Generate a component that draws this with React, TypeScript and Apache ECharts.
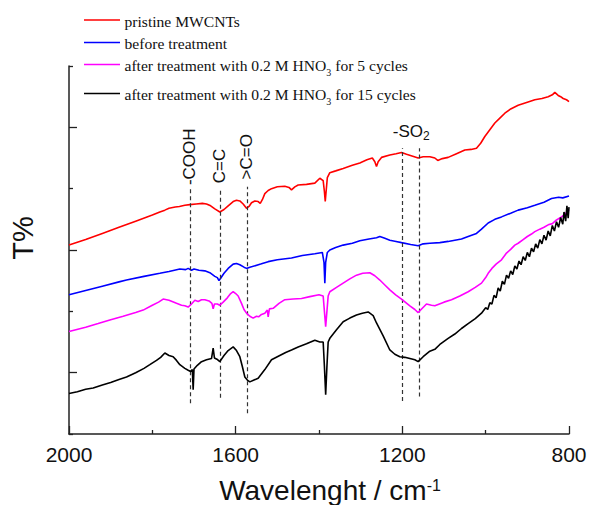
import React, { useEffect, useRef } from "react";
import * as echarts from "echarts";

type Pt = [number, number];

const seriesNames = [
  "pristine MWCNTs",
  "before treatment",
  "after treatment with 0.2 M HNO3 for 5 cycles",
  "after treatment with 0.2 M HNO3 for 15 cycles",
];
const legendLabels = [
  "pristine MWCNTs",
  "before treatment",
  "after treatment with 0.2 M HNO{sub|3} for 5 cycles",
  "after treatment with 0.2 M HNO{sub|3} for 15 cycles",
];
const seriesColors = ["#ff0000", "#0000ff", "#ff00ff", "#000000"];

const redData: Pt[] = [
  [2000,3.08],[1960,3.17],[1920,3.27],[1880,3.37],[1840,3.47],[1800,3.57],[1782,3.62],[1770,3.65],[1760,3.68],[1745,3.70],[1735,3.71],[1722,3.73],[1710,3.74],[1695,3.75],[1680,3.76],[1670,3.75],[1660,3.72],[1650,3.67],[1638,3.62],[1628,3.66],[1618,3.72],[1606,3.79],[1598,3.81],[1590,3.80],[1582,3.75],[1574,3.68],[1568,3.71],[1562,3.77],[1554,3.80],[1546,3.79],[1541,3.76],[1536,3.82],[1530,3.92],[1522,3.97],[1514,4.00],[1500,4.03],[1482,4.04],[1472,4.02],[1466,3.98],[1458,4.03],[1450,4.06],[1430,4.07],[1410,4.09],[1398,4.17],[1390,4.13],[1387,3.95],[1385,3.79],[1383,3.95],[1380,4.18],[1374,4.26],[1360,4.29],[1342,4.33],[1320,4.38],[1302,4.42],[1285,4.47],[1272,4.50],[1266,4.44],[1262,4.36],[1258,4.44],[1250,4.51],[1230,4.55],[1215,4.57],[1202,4.59],[1190,4.56],[1175,4.53],[1162,4.50],[1150,4.52],[1134,4.52],[1122,4.50],[1115,4.46],[1104,4.49],[1090,4.51],[1070,4.57],[1050,4.63],[1035,4.64],[1022,4.66],[1012,4.74],[1002,4.85],[990,4.96],[978,5.07],[966,5.15],[954,5.23],[940,5.30],[922,5.36],[900,5.41],[882,5.45],[865,5.47],[850,5.50],[840,5.53],[834,5.57],[826,5.52],[820,5.50],[814,5.47],[806,5.45],[800,5.42],
];

const blueData: Pt[] = [
  [2000,2.27],[1960,2.34],[1920,2.41],[1880,2.48],[1862,2.51],[1820,2.57],[1782,2.62],[1760,2.65],[1734,2.69],[1720,2.68],[1714,2.70],[1706,2.67],[1700,2.69],[1688,2.67],[1674,2.66],[1662,2.63],[1650,2.57],[1644,2.55],[1640,2.50],[1636,2.54],[1628,2.62],[1618,2.70],[1606,2.77],[1598,2.78],[1590,2.76],[1580,2.72],[1574,2.70],[1566,2.72],[1560,2.73],[1540,2.77],[1522,2.81],[1500,2.84],[1466,2.87],[1440,2.91],[1410,2.94],[1392,2.96],[1388,2.80],[1386,2.46],[1384,2.80],[1380,2.96],[1374,3.00],[1360,3.04],[1342,3.08],[1320,3.11],[1302,3.15],[1280,3.18],[1262,3.20],[1254,3.22],[1242,3.19],[1230,3.16],[1215,3.14],[1202,3.12],[1180,3.09],[1162,3.07],[1150,3.10],[1134,3.11],[1110,3.12],[1090,3.14],[1074,3.16],[1058,3.18],[1042,3.22],[1022,3.27],[1010,3.34],[994,3.44],[978,3.50],[962,3.54],[940,3.60],[922,3.65],[900,3.69],[882,3.73],[860,3.78],[842,3.84],[825,3.86],[815,3.85],[800,3.88],
];

const magentaData: Pt[] = [
  [2000,1.67],[1960,1.74],[1930,1.80],[1902,1.86],[1870,1.92],[1840,1.98],[1822,2.02],[1800,2.10],[1785,2.15],[1774,2.20],[1760,2.18],[1742,2.13],[1730,2.10],[1722,2.09],[1714,2.07],[1706,2.12],[1698,2.18],[1690,2.16],[1682,2.19],[1674,2.19],[1664,2.17],[1657,2.13],[1654,2.04],[1651,2.12],[1644,2.12],[1638,2.10],[1630,2.15],[1620,2.22],[1612,2.29],[1606,2.32],[1600,2.29],[1594,2.25],[1586,2.13],[1580,2.03],[1574,1.97],[1566,1.92],[1558,1.89],[1550,1.92],[1545,1.91],[1538,1.95],[1530,1.97],[1524,2.02],[1522,1.91],[1519,2.04],[1510,2.05],[1496,2.13],[1482,2.19],[1462,2.20],[1442,2.21],[1422,2.24],[1400,2.27],[1390,2.25],[1387,2.00],[1384,1.75],[1381,2.00],[1378,2.25],[1374,2.32],[1358,2.39],[1342,2.46],[1326,2.53],[1310,2.59],[1295,2.62],[1278,2.63],[1266,2.58],[1254,2.51],[1242,2.43],[1230,2.35],[1216,2.27],[1202,2.20],[1182,2.09],[1170,2.03],[1162,1.98],[1152,2.05],[1142,2.12],[1130,2.10],[1122,2.09],[1100,2.15],[1082,2.19],[1062,2.25],[1042,2.32],[1025,2.39],[1010,2.46],[1000,2.55],[994,2.62],[985,2.70],[975,2.77],[962,2.84],[950,2.95],[940,3.01],[930,3.08],[922,3.11],[910,3.17],[900,3.22],[890,3.26],[882,3.30],[870,3.34],[860,3.37],[850,3.41],[840,3.43],[830,3.49],[818,3.54],[810,3.58],[805,3.62],[800,3.65],
];

const blackData: Pt[] = [
  [2000,0.66],[1980,0.69],[1960,0.73],[1942,0.75],[1920,0.80],[1900,0.84],[1880,0.89],[1862,0.93],[1840,1.00],[1820,1.07],[1806,1.13],[1790,1.20],[1780,1.25],[1770,1.32],[1760,1.28],[1750,1.26],[1742,1.20],[1734,1.13],[1722,1.07],[1714,1.04],[1708,1.02],[1704,1.05],[1702,0.72],[1700,1.06],[1692,1.12],[1682,1.18],[1670,1.21],[1658,1.23],[1654,1.40],[1651,1.24],[1645,1.22],[1638,1.18],[1628,1.28],[1618,1.36],[1606,1.42],[1598,1.36],[1590,1.26],[1584,1.10],[1578,0.93],[1572,0.88],[1566,0.85],[1556,0.88],[1546,0.91],[1530,1.05],[1514,1.21],[1500,1.26],[1480,1.33],[1466,1.37],[1450,1.42],[1430,1.47],[1410,1.53],[1398,1.50],[1390,1.50],[1387,1.10],[1384,0.64],[1381,1.10],[1378,1.50],[1374,1.56],[1358,1.70],[1342,1.83],[1326,1.89],[1310,1.94],[1296,1.97],[1282,1.99],[1270,1.93],[1262,1.81],[1246,1.60],[1230,1.37],[1218,1.30],[1206,1.26],[1194,1.25],[1182,1.23],[1170,1.21],[1162,1.18],[1150,1.26],[1134,1.35],[1122,1.38],[1110,1.46],[1090,1.56],[1074,1.63],[1058,1.72],[1042,1.80],[1025,1.88],[1010,1.97],[1000,2.06],[995,2.03],[990,2.14],[985,2.12],[980,2.26],[975,2.22],[970,2.38],[965,2.33],[960,2.49],[955,2.44],[950,2.59],[945,2.54],[940,2.66],[935,2.60],[930,2.74],[925,2.69],[920,2.82],[915,2.76],[910,2.89],[905,2.83],[900,2.96],[895,2.89],[890,3.03],[885,2.97],[880,3.10],[875,3.03],[870,3.17],[865,3.10],[860,3.24],[855,3.16],[850,3.31],[845,3.23],[840,3.40],[835,3.31],[830,3.46],[825,3.37],[820,3.53],[815,3.42],[812,3.62],[808,3.47],[805,3.72],[802,3.52],[800,3.70],
];

const allData = [redData, blueData, magentaData, blackData];

// x axis (wavenumber) settings
const xMin = 800;
const xMax = 2000;
const xInterval = 400;
// y axis (arbitrary T% units)
const yMin = 0;
const yMax = 6;
const yInterval = 2;

// dashed marker lines: wavenumber, lower and upper value
const peakLines = [
  { wn: 1710, y1: 0.5, y2: 4.03 },
  { wn: 1638, y1: 0.59, y2: 4.0 },
  { wn: 1572, y1: 0.34, y2: 4.03 },
  { wn: 1200, y1: 0.54, y2: 4.66 },
  { wn: 1160, y1: 0.61, y2: 4.66 },
];

// annotation labels
const peakLabels = [
  { text: "-COOH", wn: 1710, y: 4.52, vertical: true },
  { text: "C=C", wn: 1638, y: 4.37, vertical: true },
  { text: ">C=O", wn: 1575, y: 4.52, vertical: true },
  { text: "-SO{sub|2}", wn: 1223, y: 4.94, vertical: false },
];

const SANS = "Arial, 'Liberation Sans', Helvetica, sans-serif";
const SERIF = "'Times New Roman', 'Liberation Serif', Times, serif";

export default function App() {
  const ref = useRef<HTMLDivElement>(null);

  useEffect(() => {
    document.body.style.margin = "0";
    if (!ref.current) return;
    const chart = echarts.init(ref.current, undefined, { renderer: "svg" });

    const series: any[] = allData.map((d, i) => ({
      name: seriesNames[i],
      type: "line",
      data: d,
      showSymbol: false,
      symbol: "none",
      lineStyle: { color: seriesColors[i], width: 1.6 },
      itemStyle: { color: seriesColors[i] },
      z: 3 + i,
      silent: true,
    }));
    series.push({
      type: "line",
      data: [],
      silent: true,
      markLine: {
        silent: true,
        symbol: ["none", "none"],
        label: { show: false },
        lineStyle: { type: [4, 3], color: "#333333", width: 1.2 },
        data: peakLines.map((p) => [
          { coord: [p.wn, p.y1] },
          { coord: [p.wn, p.y2] },
        ]),
      },
    });

    chart.setOption({
      animation: false,
      grid: { left: 69, right: 22, top: 66, bottom: 71 },
      xAxis: {
        type: "value",
        min: xMin,
        max: xMax,
        interval: xInterval,
        inverse: true,
        axisLine: { onZero: false, lineStyle: { color: "#222", width: 1.5 } },
        axisTick: { inside: true, length: 8, lineStyle: { color: "#222", width: 1.3 } },
        minorTick: { show: true, splitNumber: 2, length: 4, lineStyle: { color: "#222", width: 1.3 } },
        splitLine: { show: false },
        minorSplitLine: { show: false },
        axisLabel: {
          fontSize: 21,
          color: "#111",
          fontFamily: SANS,
          margin: 10,
          formatter: (v: number) => String(v),
        },
      },
      yAxis: {
        type: "value",
        min: yMin,
        max: yMax,
        interval: yInterval,
        axisLine: { show: true, onZero: false, lineStyle: { color: "#222", width: 1.5 } },
        axisTick: { show: true, inside: true, length: 4, lineStyle: { color: "#222", width: 1.3 } },
        minorTick: { show: true, splitNumber: 2, length: 8, lineStyle: { color: "#222", width: 1.3 } },
        splitLine: { show: false },
        minorSplitLine: { show: false },
        axisLabel: { show: false },
      },
      series,
    });

    const toPx = (wn: number, v: number) =>
      chart.convertToPixel({ xAxisIndex: 0, yAxisIndex: 0 }, [wn, v]) as number[];

    const graphics: any[] = [];
    // legend
    const legendY = [20, 42.5, 64.5, 93.5];
    legendLabels.forEach((lbl, i) => {
      graphics.push({
        type: "line",
        shape: { x1: 84, y1: legendY[i], x2: 120, y2: legendY[i] },
        style: { stroke: seriesColors[i], lineWidth: 1.6 },
        silent: true,
      });
      graphics.push({
        type: "text",
        x: 124.5,
        y: legendY[i] + 1,
        silent: true,
        style: {
          text: lbl,
          fontSize: 15.6,
          fontFamily: SERIF,
          fill: "#111",
          align: "left",
          verticalAlign: "middle",
          lineHeight: 24,
          rich: {
            sub: { fontSize: 10, lineHeight: 10, verticalAlign: "bottom", fontFamily: SERIF, fill: "#111" },
          },
        },
      });
    });
    // peak labels
    peakLabels.forEach((p) => {
      const [px, py] = toPx(p.wn, p.y);
      graphics.push({
        type: "text",
        x: px,
        y: py,
        rotation: p.vertical ? Math.PI / 2 : 0,
        silent: true,
        style: {
          text: p.text,
          fontSize: 17,
          fontFamily: SANS,
          fill: "#111",
          align: p.vertical ? "center" : "left",
          verticalAlign: "middle",
          lineHeight: 21,
          rich: {
            sub: { fontSize: 12, lineHeight: 10, verticalAlign: "bottom", fontFamily: SANS, fill: "#111" },
          },
        },
      });
    });
    // axis titles
    graphics.push({
      type: "text",
      x: 330,
      y: 490,
      silent: true,
      style: {
        text: "Wavelenght / cm{sup|-1}",
        fontSize: 28,
        fontFamily: SANS,
        fill: "#111",
        align: "center",
        verticalAlign: "middle",
        lineHeight: 26,
        rich: {
          sup: { fontSize: 16, lineHeight: 10, verticalAlign: "top", fontFamily: SANS, fill: "#111" },
        },
      },
    });
    graphics.push({
      type: "text",
      x: 23,
      y: 238,
      rotation: Math.PI / 2,
      silent: true,
      style: {
        text: "T%",
        fontSize: 29,
        fontFamily: SANS,
        fill: "#111",
        align: "center",
        verticalAlign: "middle",
      },
    });

    chart.setOption({ graphic: graphics });

    return () => chart.dispose();
  }, []);

  return <div ref={ref} style={{ width: 591, height: 505 }} />;
}
